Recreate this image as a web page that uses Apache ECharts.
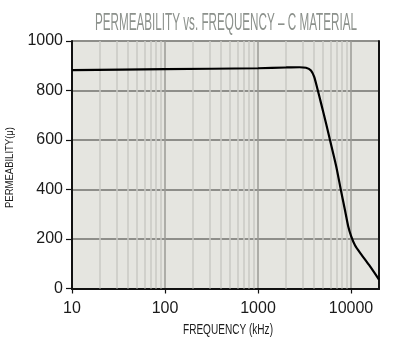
<!DOCTYPE html>
<html>
<head>
<meta charset="utf-8">
<style>
  html, body { margin: 0; padding: 0; background: #ffffff; }
  #chart { width: 400px; height: 340px; }
</style>
<script src="https://cdn.jsdelivr.net/npm/echarts@6/dist/echarts.min.js"></script>
</head>
<body>
<div id="chart"></div>
<script>
// Permeability curve of C material, frequency in kHz
var frequency = [10, 100, 1000, 2000, 2800, 3280, 3710, 4020, 4330, 4790, 5410, 6120, 6920, 7780, 8650, 9310, 10030, 11070, 12830, 15630, 20000];
var permeability = [882, 886, 890, 893, 894, 892, 881, 855, 810, 745, 665, 580, 495, 398, 313, 253, 212, 174, 139, 95, 36];

// Log-decade minor grid positions
var minorFreqs = [20, 30, 40, 50, 60, 70, 80, 90,
                  200, 300, 400, 500, 600, 700, 800, 900,
                  2000, 3000, 4000, 5000, 6000, 7000, 8000, 9000];
var yTicks = [0, 200, 400, 600, 800, 1000];

var TITLE = 'PERMEABILITY vs. FREQUENCY \u2013 C MATERIAL';
var X_NAME = 'FREQUENCY (kHz)';
var Y_NAME = 'PERMEABILITY(\u03bc)';
var FONT = "'Liberation Sans', sans-serif";

// Condensed-looking text: squeeze horizontally to a target width
var measureCtx = document.createElement('canvas').getContext('2d');
function squeeze(text, font, width) {
  measureCtx.font = font;
  return width / measureCtx.measureText(text).width;
}
var TITLE_FONT = "normal 23px 'Liberation Sans', sans-serif";
var XNAME_FONT = "normal 15px 'Liberation Sans', sans-serif";
var YNAME_FONT = "normal 10px 'Liberation Sans', sans-serif";

var chart = echarts.init(document.getElementById('chart'), null, { renderer: 'canvas' });

chart.setOption({
  animation: false,
  graphic: [{
    type: 'text', x: 226, y: 23.5,
    scaleX: squeeze(TITLE, TITLE_FONT, 262),
    style: { text: TITLE, font: TITLE_FONT, fill: '#8c918c', textAlign: 'center', textVerticalAlign: 'middle' }
  }, {
    type: 'text', x: 228, y: 329.5,
    scaleX: squeeze(X_NAME, XNAME_FONT, 90),
    style: { text: X_NAME, font: XNAME_FONT, fill: '#1a1a1a', textAlign: 'center', textVerticalAlign: 'middle' }
  }, {
    type: 'text', x: 10.5, y: 167.5, rotation: Math.PI / 2,
    scaleX: squeeze(Y_NAME, YNAME_FONT, 81),
    style: { text: Y_NAME, font: YNAME_FONT, fill: '#1a1a1a', textAlign: 'center', textVerticalAlign: 'middle' }
  }],
  grid: {
    left: 72, right: 21, top: 41, bottom: 51.5,
    containLabel: false,
    outerBoundsMode: 'none',
    show: true, backgroundColor: '#e5e5e0', borderWidth: 0
  },
  xAxis: [{
    type: 'log',
    logBase: 10,
    min: 10,
    max: 20000,
    z: 2,
    axisLine: { show: true, lineStyle: { color: '#111', width: 2 } },
    axisTick: { show: true, length: 5, lineStyle: { color: '#111', width: 1.2 } },
    axisLabel: {
      fontFamily: FONT, fontSize: 16, color: '#1a1a1a', margin: 12,
      showMaxLabel: false,
      formatter: function (v) {
        var e = Math.log10(v);
        return Math.abs(e - Math.round(e)) < 1e-6 ? String(Math.round(v)) : '';
      }
    },
    splitLine: { show: true, lineStyle: { color: '#9a9a96', width: 1.5 } },
    minorTick: { show: false },
    minorSplitLine: { show: false }
  }, {
    // top frame edge
    type: 'log', logBase: 10, min: 10, max: 20000, position: 'top', z: 4,
    axisLine: { show: true, lineStyle: { color: '#111', width: 2 } },
    axisTick: { show: false }, axisLabel: { show: false }, splitLine: { show: false }
  }],
  yAxis: [{
    type: 'value',
    min: yTicks[0],
    max: yTicks[yTicks.length - 1],
    interval: 200,
    z: 2,
    axisLine: { show: true, lineStyle: { color: '#111', width: 2 } },
    axisTick: { show: true, length: 6, lineStyle: { color: '#111', width: 1.2 } },
    axisLabel: {
      fontFamily: FONT, fontSize: 16, color: '#1a1a1a', margin: 9,
      formatter: function (v) { return String(v); }
    },
    splitLine: { show: true, lineStyle: { color: '#8e8e8a', width: 2 } }
  }, {
    // right frame edge
    type: 'value', min: 0, max: 1000, position: 'right', z: 4,
    axisLine: { show: true, lineStyle: { color: '#111', width: 2 } },
    axisTick: { show: false }, axisLabel: { show: false }, splitLine: { show: false }
  }],
  series: [{
    type: 'line',
    z: 1,
    data: [],
    silent: true,
    markLine: {
      silent: true,
      symbol: 'none',
      animation: false,
      label: { show: false },
      lineStyle: { color: '#c9c9c4', width: 1.5, type: 'solid' },
      data: minorFreqs.map(function (f) { return { xAxis: f }; })
    }
  }, {
    type: 'line',
    z: 5,
    smooth: 0.25,
    showSymbol: false,
    lineStyle: { color: '#000', width: 2.2 },
    data: frequency.map(function (f, i) { return [f, permeability[i]]; })
  }]
});
</script>
</body>
</html>
